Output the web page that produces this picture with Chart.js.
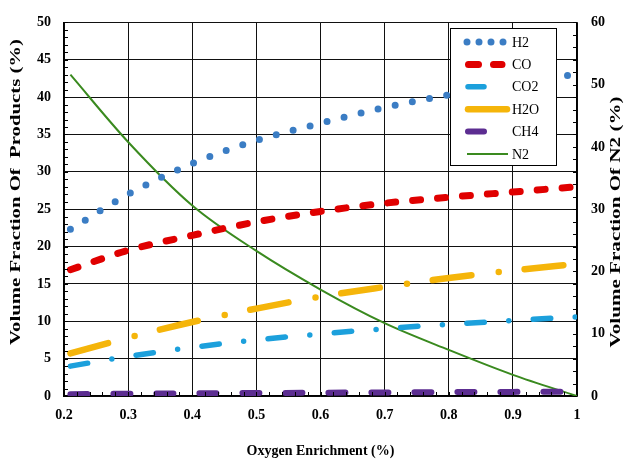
<!DOCTYPE html>
<html>
<head>
<meta charset="utf-8">
<script src="https://cdn.jsdelivr.net/npm/chart.js@4.4.1/dist/chart.umd.min.js"></script>
<style>
  html, body { margin: 0; padding: 0; background: #fff; }
  #grafica { display: block; }
</style>
</head>
<body>
<canvas id="grafica" width="625" height="465"></canvas>
<script>
// Enriquecimiento de oxigeno (eje x)
const enriquecimiento = [0.21, 0.3, 0.4, 0.5, 0.6, 0.7, 0.8, 0.9, 1.0];
const etiquetasX = ['0.2', '0.3', '0.4', '0.5', '0.6', '0.7', '0.8', '0.9', '1'];

// Fraccion volumetrica de productos (%) - eje izquierdo
const h2  = [22.3, 27.0, 31.1, 34.2, 36.5, 38.6, 40.3, 41.8, 43.1];
const co  = [16.9, 19.5, 21.5, 23.3, 24.7, 25.8, 26.6, 27.3, 28.0];
const co2 = [4.0, 5.3, 6.5, 7.5, 8.3, 9.0, 9.6, 10.1, 10.6];
const h2o = [5.7, 7.8, 9.9, 11.7, 13.3, 14.6, 15.8, 16.8, 17.7];
const ch4 = [0.25, 0.3, 0.36, 0.4, 0.44, 0.48, 0.52, 0.55, 0.58];

// Fraccion volumetrica de N2 (%) - eje derecho
const n2 = [51.6, 40.8, 30.6, 23.3, 17.1, 11.7, 7.4, 3.4, 0];

const puntos = serie => enriquecimiento.map((x, i) => ({ x, y: serie[i] }));

Chart.defaults.font.family = '"Liberation Serif", "Times New Roman", serif';
Chart.defaults.font.size = 14;
Chart.defaults.font.weight = 'bold';
Chart.defaults.color = '#000';

const base = {
  pointRadius: 0,
  fill: false,
  cubicInterpolationMode: 'monotone',
  borderCapStyle: 'round',
  yAxisID: 'y'
};

// Leyenda dibujada a mano (cada muestra con su propio trazo)
const muestras = [
  { label: 'H2',  color: '#3b7dc4', ancho: 7,   dash: [0, 12],  x0: 467,   x1: 504,   cap: 'round' },
  { label: 'CO',  color: '#e00000', ancho: 7,   dash: [10, 15], x0: 468.5, x1: 502,   cap: 'round' },
  { label: 'CO2', color: '#1ca0dc', ancho: 5.5, dash: [],       x0: 468,   x1: 484,   cap: 'round' },
  { label: 'H2O', color: '#f5b50a', ancho: 6.5, dash: [],       x0: 468,   x1: 507,   cap: 'round' },
  { label: 'CH4', color: '#5c2d91', ancho: 6,   dash: [],       x0: 468,   x1: 484,   cap: 'round' },
  { label: 'N2',  color: '#3a8a1f', ancho: 2,   dash: [],       x0: 467,   x1: 508,   cap: 'butt' }
];

const leyenda = {
  id: 'leyenda',
  afterDraw(chart) {
    const ctx = chart.ctx;
    ctx.save();
    ctx.fillStyle = '#fff';
    ctx.fillRect(450, 28, 106, 137);
    ctx.strokeStyle = '#000';
    ctx.lineWidth = 1;
    ctx.strokeRect(450.5, 28.5, 106, 137);
    muestras.forEach((m, i) => {
      const yy = 42 + i * 22.4;
      ctx.beginPath();
      ctx.setLineDash(m.dash);
      ctx.lineCap = m.cap;
      ctx.strokeStyle = m.color;
      ctx.lineWidth = m.ancho;
      ctx.moveTo(m.x0, yy);
      ctx.lineTo(m.x1, yy);
      ctx.stroke();
      ctx.setLineDash([]);
      ctx.fillStyle = '#000';
      ctx.font = '14px "Liberation Serif", serif';
      ctx.textBaseline = 'middle';
      ctx.textAlign = 'left';
      ctx.fillText(m.label, 512, yy + 1);
    });
    ctx.restore();
  }
};

// Marcas menores hacia dentro en los tres ejes
const marcasMenores = {
  id: 'marcasMenores',
  afterDatasetsDraw(chart) {
    const { ctx, chartArea: a, scales: { x, y, y1 } } = chart;
    ctx.save();
    ctx.strokeStyle = '#000';
    ctx.lineWidth = 1;
    ctx.beginPath();
    for (let v = 0; v <= 50; v += 1) {
      const p = Math.round(y.getPixelForValue(v)) + 0.5;
      ctx.moveTo(a.left, p); ctx.lineTo(a.left + 4, p);
    }
    for (let v = 0; v <= 60; v += 2) {
      const p = Math.round(y1.getPixelForValue(v)) + 0.5;
      ctx.moveTo(a.right, p); ctx.lineTo(a.right - 4, p);
    }
    for (let i = 0; i <= 40; i++) {
      const p = Math.round(x.getPixelForValue(0.2 + i * 0.02)) + 0.5;
      ctx.moveTo(p, a.bottom); ctx.lineTo(p, a.bottom - 4);
    }
    ctx.stroke();
    ctx.restore();
  }
};

// Titulos verticales, estirados a lo largo del texto
function tituloVertical(ctx, texto, cx, cy, largo) {
  ctx.save();
  ctx.font = 'bold 14px "Liberation Serif", serif';
  const w = ctx.measureText(texto).width;
  ctx.translate(cx, cy);
  ctx.rotate(-Math.PI / 2);
  ctx.scale(largo / w, 1);
  ctx.textAlign = 'center';
  ctx.textBaseline = 'middle';
  ctx.fillStyle = '#000';
  ctx.fillText(texto, 0, 0);
  ctx.restore();
}

const titulosEjes = {
  id: 'titulosEjes',
  afterDraw(chart) {
    tituloVertical(chart.ctx, 'Volume Fraction Of  Products (%)', 16, 192, 306);
    tituloVertical(chart.ctx, 'Volume Fraction Of N2 (%)', 616, 222, 251);
  }
};

const ctx = document.getElementById('grafica').getContext('2d');
new Chart(ctx, {
  type: 'line',
  data: {
    datasets: [
      { ...base, label: 'H2',  data: puntos(h2),  borderColor: '#3b7dc4', borderWidth: 7,   borderDash: [0, 17.5] },
      { ...base, label: 'CO',  data: puntos(co),  borderColor: '#e00000', borderWidth: 7,   borderDash: [8, 17] },
      { ...base, label: 'CO2', data: puntos(co2), borderColor: '#1ca0dc', borderWidth: 5.5, borderDash: [17.5, 24.5, 0, 24.5] },
      { ...base, label: 'H2O', data: puntos(h2o), borderColor: '#f5b50a', borderWidth: 6.5, borderDash: [39, 27.5, 0, 26] },
      { ...base, label: 'CH4', data: puntos(ch4), borderColor: '#5c2d91', borderWidth: 6,   borderDash: [17, 26] },
      { ...base, label: 'N2',  data: puntos(n2),  borderColor: '#3a8a1f', borderWidth: 2, borderCapStyle: 'butt', yAxisID: 'y1' }
    ]
  },
  options: {
    responsive: false,
    animation: false,
    layout: { padding: { top: 18 } },
    plugins: {
      legend: { display: false },
      tooltip: { enabled: false }
    },
    scales: {
      x: {
        type: 'linear',
        min: 0.2,
        max: 1,
        ticks: {
          stepSize: 0.1,
          padding: 11,
          callback: v => etiquetasX[Math.round((v - 0.2) * 10)]
        },
        grid: { color: '#111', lineWidth: 1, drawTicks: false },
        border: { color: '#000', width: 1.5 },
        title: { display: true, text: 'Oxygen Enrichment (%)', font: { size: 14, weight: 'bold' }, padding: { top: 0, bottom: 5 } },
        afterFit(s) { s.height = 69; }
      },
      y: {
        position: 'left',
        min: 0,
        max: 50,
        ticks: { stepSize: 5, padding: 13 },
        grid: { color: '#111', lineWidth: 1, drawTicks: false },
        border: { color: '#000', width: 1.5 },
        afterFit(s) { s.width = 64; }
      },
      y1: {
        position: 'right',
        min: 0,
        max: 60,
        ticks: { stepSize: 10, padding: 14 },
        grid: { display: false, drawTicks: false },
        border: { color: '#000', width: 1.5 },
        afterFit(s) { s.width = 48; }
      }
    }
  },
  plugins: [marcasMenores, leyenda, titulosEjes]
});
</script>
</body>
</html>
